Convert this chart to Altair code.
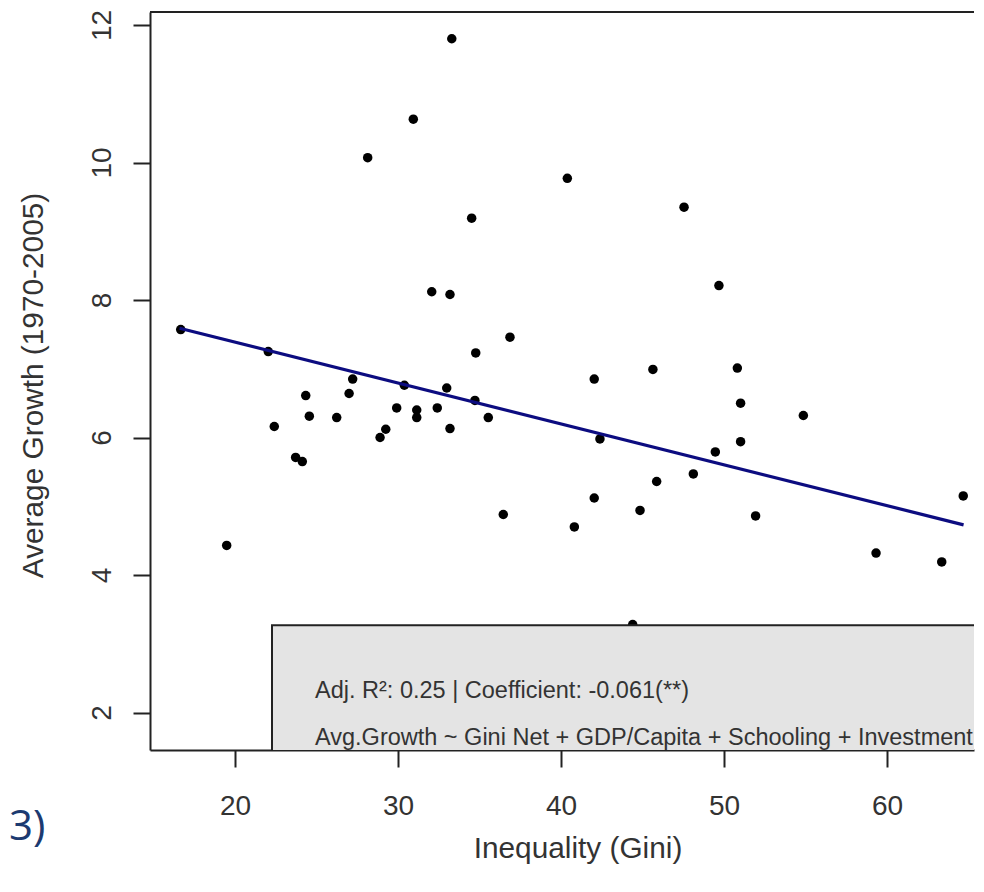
import altair as alt
import pandas as pd

# ---- data ----
gini = [16.67, 19.49, 22.04, 22.41, 23.72, 24.13, 24.34, 24.56, 26.24, 27.00,
        27.22, 28.14, 28.90, 29.25, 29.92, 30.39, 30.94, 31.15, 31.15, 32.07,
        32.41, 32.99, 33.19, 33.19, 33.30, 34.52, 34.72, 34.77, 35.54, 36.46,
        36.87, 40.39, 40.82, 42.04, 42.04, 42.39, 44.40, 44.85, 45.64, 45.87,
        47.55, 48.12, 49.47, 49.69, 50.82, 51.02, 51.02, 51.94, 54.87, 59.33,
        63.36, 64.68]
growth = [7.57, 4.43, 7.25, 6.16, 5.71, 5.65, 6.61, 6.31, 6.29, 6.64,
          6.85, 10.07, 6.00, 6.12, 6.43, 6.76, 10.63, 6.40, 6.29, 8.12,
          6.43, 6.72, 8.08, 6.13, 11.80, 9.19, 6.54, 7.23, 6.29, 4.88,
          7.46, 9.77, 4.70, 6.85, 5.12, 5.98, 3.28, 4.94, 6.99, 5.36,
          9.35, 5.47, 5.79, 8.21, 7.01, 6.50, 5.94, 4.86, 6.32, 4.32,
          4.19, 5.15]
fit_gini = [16.6, 64.7]
fit_growth = [7.59, 4.73]

x_ticks = [20, 30, 40, 50, 60]
y_ticks = [2, 4, 6, 8, 10, 12]
x_title = "Inequality (Gini)"
y_title = "Average Growth (1970-2005)"
legend_line1 = "Adj. R²: 0.25 | Coefficient: -0.061(**)"
legend_line2 = "Avg.Growth ~ Gini Net + GDP/Capita + Schooling + Investment"
fragment = "3)"

# ---- layout ----
W, H = 824, 738
X_DOMAIN = [14.785, 65.34]
Y_DOMAIN = [1.455, 12.189]
FONT = "Liberation Sans"
INK = "#222222"
TXT = "#333333"

xs = alt.Scale(domain=X_DOMAIN, nice=False, zero=False)
ys = alt.Scale(domain=Y_DOMAIN, nice=False, zero=False)

pts = pd.DataFrame({"gini": gini, "growth": growth})
fit = pd.DataFrame({"gini": fit_gini, "growth": fit_growth})
one = pd.DataFrame({"k": [0]})

x_axis = alt.Axis(values=x_ticks, title=x_title, labelBaseline="alphabetic",
                  labelPadding=47, titleX=427.5, titleY=107,
                  titleBaseline="alphabetic", titleFontSize=29.8)
y_axis = alt.Axis(values=y_ticks, title=y_title, labelAngle=270,
                  labelAlign="center", labelBaseline="alphabetic",
                  labelPadding=23, titleAngle=270, titleX=-108, titleY=373,
                  titleAlign="center", titleBaseline="alphabetic",
                  titleFontSize=29.8)

X = alt.X("gini:Q", scale=xs, axis=x_axis, title=x_title)
Y = alt.Y("growth:Q", scale=ys, axis=y_axis, title=y_title)

points = alt.Chart(pts).mark_circle(size=90, color="black", opacity=1).encode(
    x=X, y=Y
)

line = alt.Chart(fit).mark_line(color="#0c0c80", strokeWidth=3.2).encode(
    x=X, y=Y
)

legend_box = alt.Chart(one).mark_rect(
    fill="#E4E4E4", stroke=INK, strokeWidth=2, clip=True
).encode(
    x=alt.X(datum=22.27, scale=xs, axis=x_axis, title=x_title),
    x2=alt.X2(datum=67.0),
    y=alt.Y(datum=1.0, scale=ys, axis=y_axis, title=y_title),
    y2=alt.Y2(datum=3.27),
)

text1 = alt.Chart(one).mark_text(
    text=legend_line1, align="left", baseline="alphabetic", font=FONT,
    fontSize=23.5, color=TXT
).encode(x=alt.value(165), y=alt.value(686))

text2 = alt.Chart(one).mark_text(
    text=legend_line2, align="left", baseline="alphabetic", font=FONT,
    fontSize=23.5, color=TXT
).encode(x=alt.value(165), y=alt.value(733))

top_border = alt.Chart(one).mark_rule(color=INK, strokeWidth=2).encode(
    x=alt.value(0), x2=alt.value(W), y=alt.value(0)
)

frag = alt.Chart(one).mark_text(
    text=fragment, align="left", baseline="alphabetic", font="Open Sans",
    fontSize=42, color="#1c3a70"
).encode(x=alt.value(-141), y=alt.value(828))

chart = alt.layer(points, line, legend_box, text1, text2, top_border, frag).properties(
    width=W, height=H,
    autosize=alt.AutoSizeParams(type="none"),
    padding={"left": 142, "top": 4, "right": 2, "bottom": 122},
    background="white",
).configure_view(stroke=None).configure_axis(
    grid=False, domainColor=INK, domainWidth=2, tickColor=INK, tickWidth=2,
    tickSize=17, labelFont=FONT, labelFontSize=28, labelColor=TXT,
    titleFont=FONT, titleFontWeight="normal", titleColor=TXT,
)

chart.save("out.html", embed_options={"renderer": "svg", "actions": False})
